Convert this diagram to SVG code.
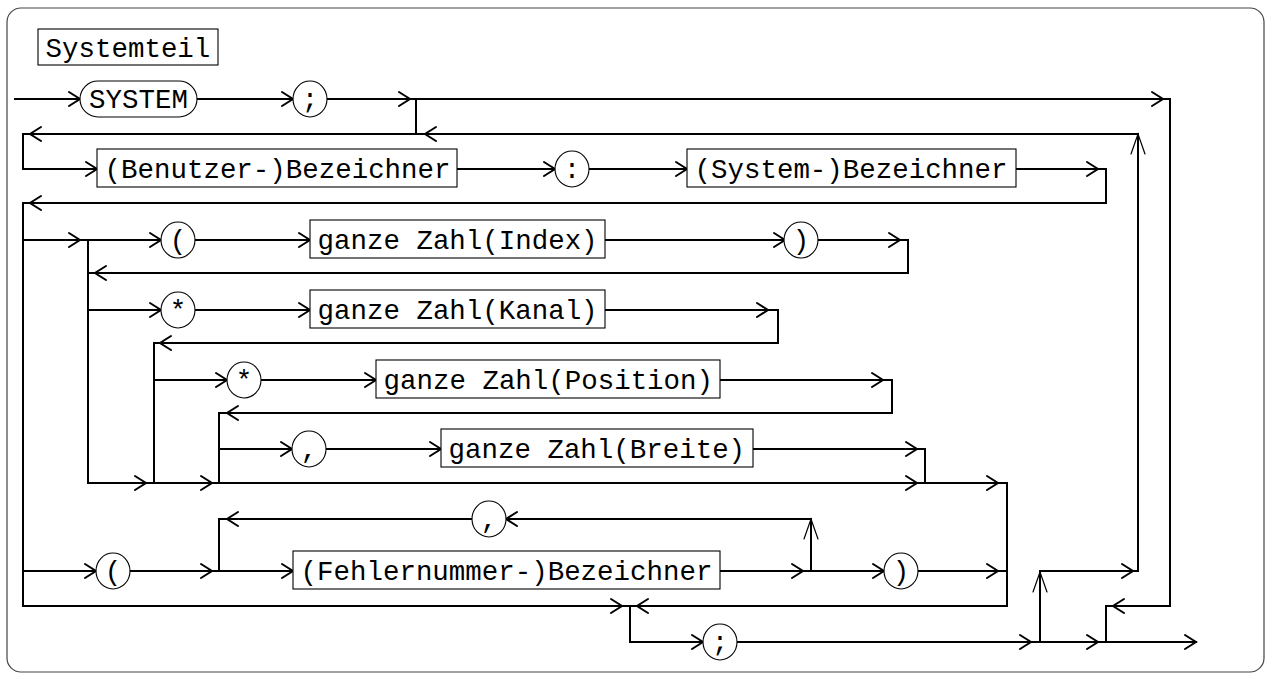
<svg xmlns="http://www.w3.org/2000/svg" xmlns:xlink="http://www.w3.org/1999/xlink" width="1270" height="679" viewBox="0 0 1270 679">
<style>
.ln{fill:none;stroke:#000;stroke-width:2;stroke-linejoin:miter;stroke-linecap:square}
.ar{fill:none;stroke:#000;stroke-width:2;stroke-linecap:round;stroke-linejoin:miter}
.up{fill:none;stroke:#000;stroke-width:1.2;stroke-linecap:round}
.bx{fill:#fff;stroke:#000;stroke-width:1.1}
.tx{font-family:"Liberation Mono","DejaVu Sans Mono",monospace;font-size:27.45px;fill:#000}
.ct{font-family:"Liberation Mono","DejaVu Sans Mono",monospace;font-size:27.45px;fill:#000;text-anchor:middle}
</style>
<defs>
<path id="r" class="ar" d="M-11,-7 L0,0 L-11,7"/>
<path id="l" class="ar" d="M11,-7 L0,0 L11,7"/>
<path id="u" class="up" d="M-7,20 L0,0 L7,20"/>
</defs>
<rect x="7" y="8" width="1257" height="664" rx="14" fill="#fff" stroke="#444" stroke-width="1.2"/>
<g id="connectors">
<path class="ln" d="M15,99 H80"/>
<path class="ln" d="M197,99 H293"/>
<path class="ln" d="M327,99 H1170 V606 H1106 V642"/>
<path class="ln" d="M416,99 V134"/>
<path class="ln" d="M1138,571 V134 H23 V169 H97"/>
<path class="ln" d="M457,169 H555"/>
<path class="ln" d="M589,169 H687"/>
<path class="ln" d="M1016,169 H1106 V203 H23 V606 H630 V642 H703"/>
<path class="ln" d="M23,240 H161"/>
<path class="ln" d="M195,240 H310"/>
<path class="ln" d="M605,240 H785"/>
<path class="ln" d="M818,240 H908 V273 H88"/>
<path class="ln" d="M88,240 V483 H1007 V606 H630"/>
<path class="ln" d="M88,310 H161"/>
<path class="ln" d="M195,310 H310"/>
<path class="ln" d="M605,310 H778 V343 H154 V483"/>
<path class="ln" d="M154,380 H227"/>
<path class="ln" d="M261,380 H376"/>
<path class="ln" d="M720,380 H892 V413 H219 V483"/>
<path class="ln" d="M219,449 H292"/>
<path class="ln" d="M326,449 H441"/>
<path class="ln" d="M753,449 H925 V483"/>
<path class="ln" d="M811,571 V519 H506"/>
<path class="ln" d="M472,519 H219 V571"/>
<path class="ln" d="M23,571 H96"/>
<path class="ln" d="M130,571 H293"/>
<path class="ln" d="M720,571 H884"/>
<path class="ln" d="M918,571 H1007"/>
<path class="ln" d="M737,642 H1196"/>
<path class="ln" d="M1040,642 V571 H1138"/>
<!-- arrowheads -->
<use xlink:href="#r" x="80" y="99"/>
<use xlink:href="#r" x="293" y="99"/>
<use xlink:href="#r" x="410" y="99"/>
<use xlink:href="#r" x="1163" y="99"/>
<use xlink:href="#l" x="425" y="134"/>
<use xlink:href="#l" x="30" y="134"/>
<use xlink:href="#u" x="1138" y="134"/>
<use xlink:href="#r" x="97" y="169"/>
<use xlink:href="#r" x="555" y="169"/>
<use xlink:href="#r" x="687" y="169"/>
<use xlink:href="#r" x="1098" y="169"/>
<use xlink:href="#l" x="30" y="203"/>
<use xlink:href="#r" x="80" y="240"/>
<use xlink:href="#r" x="161" y="240"/>
<use xlink:href="#r" x="310" y="240"/>
<use xlink:href="#r" x="785" y="240"/>
<use xlink:href="#r" x="900" y="240"/>
<use xlink:href="#l" x="95" y="273"/>
<use xlink:href="#r" x="161" y="310"/>
<use xlink:href="#r" x="310" y="310"/>
<use xlink:href="#r" x="768" y="310"/>
<use xlink:href="#l" x="160" y="343"/>
<use xlink:href="#r" x="227" y="380"/>
<use xlink:href="#r" x="376" y="380"/>
<use xlink:href="#r" x="883" y="380"/>
<use xlink:href="#l" x="227" y="413"/>
<use xlink:href="#r" x="292" y="449"/>
<use xlink:href="#r" x="441" y="449"/>
<use xlink:href="#r" x="917" y="449"/>
<use xlink:href="#r" x="146" y="483"/>
<use xlink:href="#r" x="212" y="483"/>
<use xlink:href="#r" x="917" y="483"/>
<use xlink:href="#r" x="998" y="483"/>
<use xlink:href="#l" x="506" y="519"/>
<use xlink:href="#l" x="227" y="519"/>
<use xlink:href="#u" x="811" y="519"/>
<use xlink:href="#r" x="96" y="571"/>
<use xlink:href="#r" x="212" y="571"/>
<use xlink:href="#r" x="293" y="571"/>
<use xlink:href="#r" x="803" y="571"/>
<use xlink:href="#r" x="884" y="571"/>
<use xlink:href="#r" x="998" y="571"/>
<use xlink:href="#u" x="1040" y="572"/>
<use xlink:href="#r" x="1133" y="571"/>
<use xlink:href="#r" x="622" y="606"/>
<use xlink:href="#l" x="637" y="606"/>
<use xlink:href="#l" x="1113" y="606"/>
<use xlink:href="#r" x="703" y="642"/>
<use xlink:href="#r" x="1031" y="642"/>
<use xlink:href="#r" x="1098" y="642"/>
<use xlink:href="#r" x="1196" y="642"/>
</g>
<g id="title"><rect class="bx" x="38" y="29" width="180" height="36"/><text class="tx" x="45.6" y="57" textLength="164.7" lengthAdjust="spacingAndGlyphs">Systemteil</text></g>
<g id="n-system"><rect class="bx" x="80" y="81" width="117" height="36" rx="18"/><text class="ct" x="138.5" y="108">SYSTEM</text></g>
<g id="n-semi1"><ellipse class="bx" cx="310" cy="99" rx="17" ry="18"/><text class="ct" x="310" y="108">;</text></g>
<g id="n-benutzer"><rect class="bx" x="97" y="149" width="360" height="38"/><text class="tx" x="104.6" y="178" textLength="345.9" lengthAdjust="spacingAndGlyphs">(Benutzer-)Bezeichner</text></g>
<g id="n-colon"><ellipse class="bx" cx="572" cy="169" rx="17" ry="18"/><text class="ct" x="572" y="178">:</text></g>
<g id="n-systembez"><rect class="bx" x="687" y="149" width="329" height="38"/><text class="tx" x="694.6" y="178" textLength="312.9" lengthAdjust="spacingAndGlyphs">(System-)Bezeichner</text></g>
<g id="n-lpar1"><ellipse class="bx" cx="178" cy="240" rx="17" ry="18"/><text class="ct" x="178" y="249">(</text></g>
<g id="n-index"><rect class="bx" x="310" y="220" width="295" height="38"/><text class="tx" x="317.6" y="249" textLength="280" lengthAdjust="spacingAndGlyphs">ganze Zahl(Index)</text></g>
<g id="n-rpar1"><ellipse class="bx" cx="801" cy="240" rx="17" ry="18"/><text class="ct" x="801" y="249">)</text></g>
<g id="n-star1"><ellipse class="bx" cx="178" cy="310" rx="17" ry="18"/><text class="ct" x="178" y="319">*</text></g>
<g id="n-kanal"><rect class="bx" x="310" y="290" width="295" height="38"/><text class="tx" x="317.6" y="319" textLength="280" lengthAdjust="spacingAndGlyphs">ganze Zahl(Kanal)</text></g>
<g id="n-star2"><ellipse class="bx" cx="244" cy="380" rx="17" ry="18"/><text class="ct" x="244" y="389">*</text></g>
<g id="n-position"><rect class="bx" x="376" y="360" width="344" height="38"/><text class="tx" x="383.6" y="389" textLength="329.4" lengthAdjust="spacingAndGlyphs">ganze Zahl(Position)</text></g>
<g id="n-comma1"><ellipse class="bx" cx="309" cy="449" rx="17" ry="18"/><text class="ct" x="309" y="458">,</text></g>
<g id="n-breite"><rect class="bx" x="441" y="429" width="312" height="38"/><text class="tx" x="448.6" y="458" textLength="296.5" lengthAdjust="spacingAndGlyphs">ganze Zahl(Breite)</text></g>
<g id="n-comma2"><ellipse class="bx" cx="489" cy="519" rx="17" ry="18"/><text class="ct" x="489" y="528">,</text></g>
<g id="n-lpar2"><ellipse class="bx" cx="113" cy="571" rx="17" ry="18"/><text class="ct" x="113" y="580">(</text></g>
<g id="n-fehler"><rect class="bx" x="293" y="551" width="427" height="38"/><text class="tx" x="300.6" y="580" textLength="411.8" lengthAdjust="spacingAndGlyphs">(Fehlernummer-)Bezeichner</text></g>
<g id="n-rpar2"><ellipse class="bx" cx="901" cy="571" rx="17" ry="18"/><text class="ct" x="901" y="580">)</text></g>
<g id="n-semi2"><ellipse class="bx" cx="720" cy="642" rx="17" ry="18"/><text class="ct" x="720" y="651">;</text></g>
</svg>
